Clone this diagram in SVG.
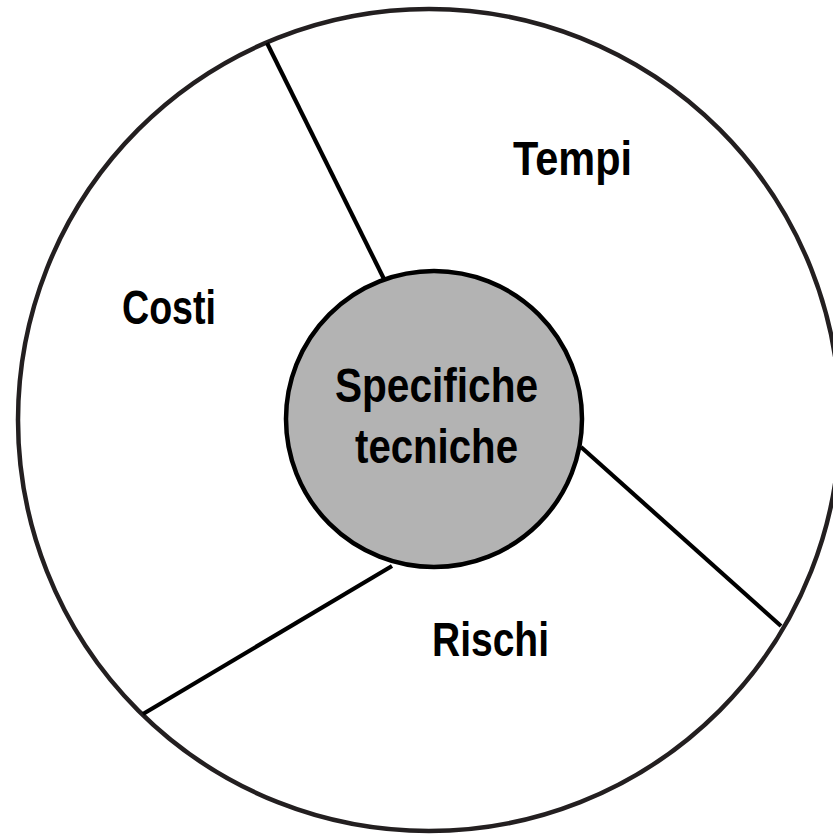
<svg xmlns="http://www.w3.org/2000/svg" width="833" height="835" viewBox="0 0 833 835">
<style>
.t{font-family:"Liberation Sans",Arial,sans-serif;font-weight:bold;font-size:48px;fill:#000;text-anchor:middle}
.ln{stroke:#000;stroke-width:4.2;fill:none;stroke-linecap:butt}
</style>
<rect width="833" height="835" fill="#fff"/>
<g id="outer">
<circle cx="429" cy="420" r="411" fill="#fff" stroke="#231f20" stroke-width="4.5"/>
</g>
<g id="connectors">
<line class="ln" x1="267" y1="43" x2="384" y2="279"/>
<line class="ln" x1="581" y1="447" x2="781" y2="626"/>
<line class="ln" x1="143" y1="714" x2="392" y2="566"/>
</g>
<g id="tempi"><text class="t" x="572.5" y="175" textLength="119" lengthAdjust="spacingAndGlyphs">Tempi</text></g>
<g id="costi"><text class="t" x="169" y="324" textLength="94" lengthAdjust="spacingAndGlyphs">Costi</text></g>
<g id="rischi"><text class="t" x="490.5" y="656" textLength="117" lengthAdjust="spacingAndGlyphs">Rischi</text></g>
<g id="center">
<circle cx="434" cy="419" r="148" fill="#b3b3b3" stroke="#000" stroke-width="4.5"/>
<text class="t" x="436.5" y="402" textLength="203" lengthAdjust="spacingAndGlyphs">Specifiche</text>
<text class="t" x="436.5" y="463" textLength="163" lengthAdjust="spacingAndGlyphs">tecniche</text>
</g>
</svg>
